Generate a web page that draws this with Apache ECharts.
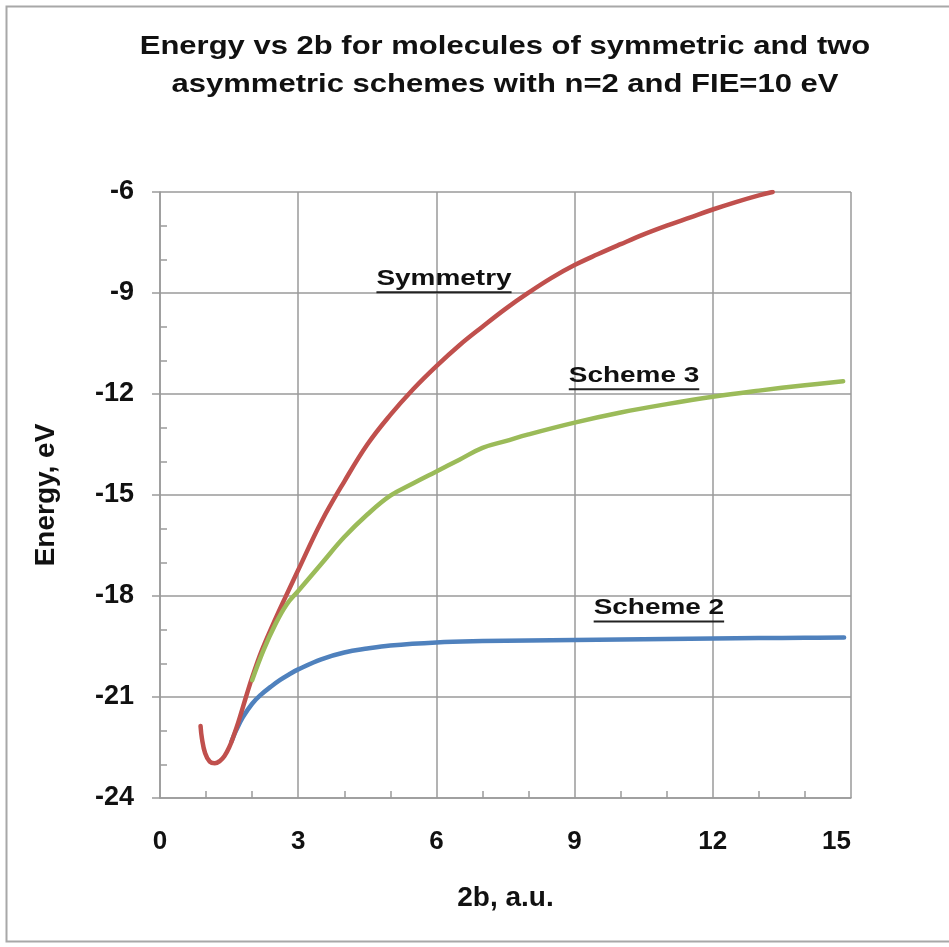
<!DOCTYPE html>
<html>
<head>
<meta charset="utf-8">
<script src="https://cdn.jsdelivr.net/npm/echarts@6/dist/echarts.min.js"></script>
<style>
html,body{margin:0;padding:0;background:#fff;}
#chart{width:949px;height:947px;}
</style>
</head>
<body>
<div id="chart"></div>
<script>
// ---- data ----
const titleLines = ['Energy vs 2b for molecules of symmetric and two', 'asymmetric schemes with n=2 and FIE=10 eV'];
const xAxisName = '2b, a.u.';
const yAxisName = 'Energy, eV';
const xTicks = [0, 3, 6, 9, 12, 15];
const yTicks = [-24, -21, -18, -15, -12, -9, -6];

const symX = [0.88, 0.91, 0.98, 1.08, 1.19, 1.3, 1.4, 1.5, 1.6, 1.7, 1.8, 1.9, 2.0, 2.2, 2.45, 2.7, 3.0, 3.5, 4.0, 4.5, 5.0, 5.5, 6.0, 6.5, 7.0, 7.5, 8.0, 8.5, 9.0, 9.5, 10.0, 10.5, 11.0, 11.5, 12.0, 12.5, 13.0, 13.3];
const symY = [-21.86, -22.23, -22.67, -22.92, -22.97, -22.9, -22.75, -22.5, -22.15, -21.75, -21.3, -20.85, -20.42, -19.65, -18.85, -18.1, -17.23, -15.8, -14.6, -13.5, -12.62, -11.85, -11.17, -10.55, -10.0, -9.47, -8.99, -8.55, -8.17, -7.85, -7.55, -7.26, -7.0, -6.76, -6.52, -6.3, -6.1, -6.0];

const sch3X = [2.0, 2.25, 2.5, 2.75, 3.0, 3.5, 4.0, 4.5, 5.0, 5.5, 6.0, 6.5, 7.0, 7.5, 8, 9, 10, 11, 12, 13, 14, 14.83];
const sch3Y = [-20.5, -19.6, -18.85, -18.25, -17.85, -17.05, -16.25, -15.58, -15.02, -14.65, -14.3, -13.95, -13.6, -13.4, -13.2, -12.85, -12.55, -12.3, -12.08, -11.9, -11.74, -11.62];

const sch2X = [1.55, 1.65, 1.8, 2.0, 2.2, 2.4, 2.6, 2.8, 3.0, 3.5, 4.0, 4.5, 5.0, 6.0, 7.0, 8.0, 9.0, 10.0, 11.0, 12.0, 13.0, 14.0, 14.85];
const sch2Y = [-22.33, -22.0, -21.6, -21.2, -20.92, -20.7, -20.5, -20.33, -20.18, -19.88, -19.68, -19.56, -19.47, -19.38, -19.34, -19.32, -19.31, -19.29, -19.28, -19.26, -19.25, -19.24, -19.23];

const labelText = ['Symmetry', 'Scheme 3', 'Scheme 2'];
const labelX = [6.165, 10.29, 10.83];
const labelY = [-8.575, -11.456, -18.355];

// ---- chart ----
const FONT = '"Liberation Sans", Arial, sans-serif';
const zip = (xs, ys) => xs.map((x, i) => [x, ys[i]]);
const gridColor = '#9a9a9a';

const chart = echarts.init(document.getElementById('chart'), null, {renderer: 'canvas'});
const lineSeries = (name, xs, ys, color, z) => ({
  name, type: 'line', data: zip(xs, ys), showSymbol: false,
  smooth: 0.4,
  lineStyle: {color, width: 4.5, cap: 'round', join: 'round'}, itemStyle: {color}, z
});
const option = {
  backgroundColor: '#ffffff',
  animation: false,
  grid: {left: 160, right: 98, top: 192, bottom: 149, containLabel: false},
  xAxis: {
    type: 'value', min: xTicks[0], max: xTicks[xTicks.length - 1], interval: 3,
    name: xAxisName, nameLocation: 'middle', nameGap: 86,
    nameTextStyle: {fontFamily: FONT, fontSize: 28, fontWeight: 'bold', color: '#111'},
    axisLine: {show: true, lineStyle: {color: gridColor, width: 1.5}},
    axisTick: {show: false, inside: true},
    minorTick: {show: true, splitNumber: 3, length: 7, lineStyle: {color: gridColor, width: 1.5}},
    splitLine: {show: true, lineStyle: {color: gridColor, width: 1.5}},
    axisLabel: {fontFamily: FONT, fontSize: 26, fontWeight: 'bold', color: '#111', margin: 31, alignMaxLabel: 'right'}
  },
  yAxis: [{
    type: 'value', min: yTicks[0], max: yTicks[yTicks.length - 1], interval: 3,
    position: 'left',
    name: yAxisName, nameLocation: 'middle', nameGap: 100, nameRotate: 90,
    nameTextStyle: {fontFamily: FONT, fontSize: 28, fontWeight: 'bold', color: '#111'},
    axisLine: {show: true, lineStyle: {color: gridColor, width: 1.5}},
    axisTick: {show: true, inside: false, length: 8, lineStyle: {color: gridColor, width: 1.5}},
    minorTick: {show: false},
    splitLine: {show: true, lineStyle: {color: gridColor, width: 1.5}},
    axisLabel: {fontFamily: FONT, fontSize: 27, fontWeight: 'bold', color: '#111', margin: 26}
  }, {
    type: 'value', min: yTicks[0], max: yTicks[yTicks.length - 1], interval: 3,
    position: 'left',
    axisLine: {show: false},
    axisTick: {show: false, inside: true},
    minorTick: {show: true, splitNumber: 3, length: 7, lineStyle: {color: gridColor, width: 1.5}},
    splitLine: {show: false},
    axisLabel: {show: false}
  }],
  series: [
    lineSeries('Scheme 2', sch2X, sch2Y, '#4F81BD', 2),
    lineSeries('Symmetry', symX, symY, '#C0504D', 3),
    lineSeries('Scheme 3', sch3X, sch3Y, '#9BBB59', 4)
  ]
};
chart.setOption(option);

// graphic: frame, title, annotated labels
const graphics = [];
graphics.push({
  type: 'polyline', silent: true, z: 0,
  shape: {points: [[949, 6.5], [6.5, 6.5], [6.5, 941.5], [949, 941.5]]},
  style: {stroke: '#a8a8a8', lineWidth: 2, fill: null}
});
const titleY = [47, 85];
titleLines.forEach((t, i) => {
  graphics.push({
    type: 'text', x: 505, y: titleY[i], scaleX: 1.17, z: 10,
    style: {text: t, font: 'bold 26.5px ' + FONT, fill: '#111', textAlign: 'center', textVerticalAlign: 'middle'}
  });
});
const LBL_SCALE = 1.27;
const LBL_FONT = 'bold 22px ' + FONT;
labelText.forEach((t, i) => {
  const p = chart.convertToPixel({gridIndex: 0}, [labelX[i], labelY[i]]);
  const w = echarts.format.getTextRect ? echarts.format.getTextRect(t, LBL_FONT).width : 100;
  const half = w * LBL_SCALE / 2;
  graphics.push({
    type: 'text', x: p[0], y: p[1], scaleX: LBL_SCALE, z: 10,
    style: {text: t, font: LBL_FONT, fill: '#111', textAlign: 'center', textVerticalAlign: 'middle'}
  });
  graphics.push({
    type: 'line', z: 10,
    shape: {x1: p[0] - half, y1: p[1] + 13.5, x2: p[0] + half, y2: p[1] + 13.5},
    style: {stroke: '#222', lineWidth: 2}
  });
});
chart.setOption({graphic: graphics});
</script>
</body>
</html>
